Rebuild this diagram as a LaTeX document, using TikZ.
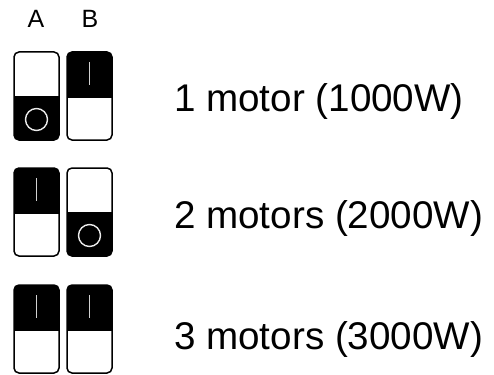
\documentclass[tikz,border=0pt]{standalone}
\usepackage{fontspec}
\setmainfont{Liberation Sans}

% One rocker switch: #1 = left x, #2 = top y, #3 = 1 for "I" (top pressed), 0 for "O"
\newcommand\rockerswitch[3]{%
  \begin{scope}[shift={(#1,#2)}]
    \fill[white,rounded corners=5pt] (0,0) rectangle (45,88);
    \begin{scope}
      \clip[rounded corners=5pt] (0,0) rectangle (45,88);
      \ifnum#3=1
        \fill[black] (0,0) rectangle (45,45);
      \else
        \fill[black] (0,45) rectangle (45,88);
      \fi
    \end{scope}
    \draw[outline] (0,0) rectangle (45,88);
    \draw[divider] (0,45) -- (45,45);
    \ifnum#3=1
      \draw[leverline] (22.5,10) -- (22.5,33);
    \else
      \draw[ringmark] (22.5,67.5) circle (11pt);
    \fi
  \end{scope}}

\begin{document}
\begin{tikzpicture}[x=1pt,y=-1pt,
  outline/.style={draw=black,line width=1.5pt,rounded corners=5pt},
  divider/.style={draw=black,line width=1.5pt},
  leverline/.style={draw=black!18,line width=1.8pt},
  ringmark/.style={draw=black!8,line width=1.4pt},
  colhead/.style={font=\fontsize{25}{27}\selectfont,anchor=base,inner sep=0pt},
  rowtext/.style={font=\fontsize{38.6}{40}\selectfont,anchor=base west,inner sep=0pt}]
  \useasboundingbox (0,0) rectangle (494,374);

  % column headings
  \node[colhead] (headA) at (36,28) {A};
  \node[colhead] (headB) at (90,28) {B};

  % row 1: A off, B on
  \rockerswitch{14}{52}{0}
  \rockerswitch{67}{52}{1}
  \node[rowtext] (row1) at (174,112) {1 motor (1000W)};

  % row 2: A on, B off
  \rockerswitch{14}{168}{1}
  \rockerswitch{67}{168}{0}
  \node[rowtext] (row2) at (174,228) {2 motors (2000W)};

  % row 3: both on
  \rockerswitch{14}{285}{1}
  \rockerswitch{67}{285}{1}
  \node[rowtext] (row3) at (174,349) {3 motors (3000W)};
\end{tikzpicture}
\end{document}
